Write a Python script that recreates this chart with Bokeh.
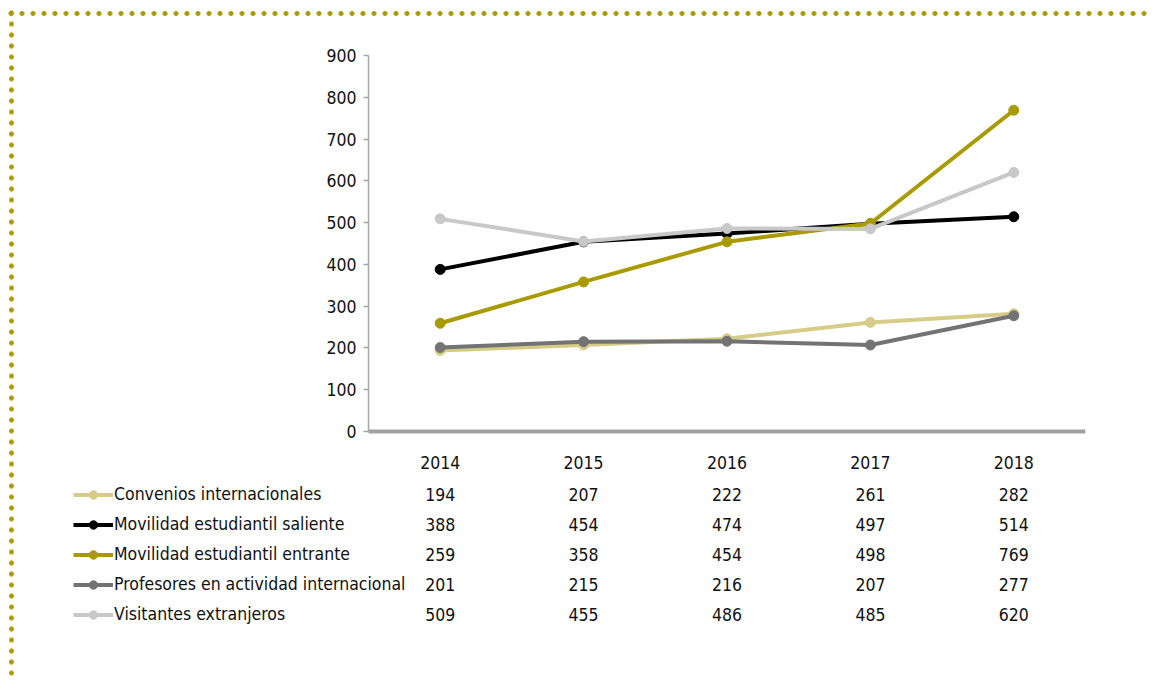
from bokeh.plotting import figure
from bokeh.models import (Range1d, LinearAxis, FixedTicker, Legend, LegendItem,
                          ColumnDataSource)
from bokeh.embed import file_html
from bokeh.resources import INLINE
from bokeh.core.properties import value

# ---------------- data ----------------
years = ["2014", "2015", "2016", "2017", "2018"]
series_names = [
    "Convenios internacionales",
    "Movilidad estudiantil saliente",
    "Movilidad estudiantil entrante",
    "Profesores en actividad internacional",
    "Visitantes extranjeros",
]
convenios = [194, 207, 222, 261, 282]
saliente = [388, 454, 474, 497, 514]
entrante = [259, 358, 454, 498, 769]
profesores = [201, 215, 216, 207, 277]
visitantes = [509, 455, 486, 485, 620]
series_colors = ["#D7CC87", "#000000", "#A99A00", "#737373", "#C8C8C8"]
y_ticks = [0, 100, 200, 300, 400, 500, 600, 700, 800, 900]
y_max = 900

series_values = [convenios, saliente, entrante, profesores, visitantes]
x_pos = list(range(len(years)))

# ---------------- layout constants (page pixels) ----------------
FONT = "'DejaVu Sans Condensed', 'Liberation Sans', sans-serif"
FSIZE = "17.5px"
TXT = "#111111"
OLIVE = "#A99A00"
W, H = 1152, 680

FR_L, FR_R, FR_T, FR_B = 65, 1085, 18, 630   # plot frame
AX_X = 368                                   # y axis position
Y0, Y900 = 431, 55                           # pixel rows of 0 and 900
HEADER_Y, ROW_PITCH = 464, 30

ppu = (Y0 - Y900) / y_max
band = (FR_R - AX_X) / len(years)
x_start = -0.5 - (AX_X - FR_L) / band
x_end = len(years) - 0.5
y_end = y_max + (Y900 - FR_T) / ppu
y_start = -(FR_B - Y0) / ppu

dot = "radial-gradient(circle at center, %s 0px, %s 2.1px, rgba(169,154,0,0) 2.8px)" % (OLIVE, OLIVE)
border_styles = {
    "background-color": "white",
    "background-image": "linear-gradient(#ffffff, #ffffff), linear-gradient(#ffffff, #ffffff), %s, %s" % (dot, dot),
    "background-size": "8px 100%, 20px 8px, 11px 11px, 11px 11px",
    "background-repeat": "no-repeat, no-repeat, repeat-x, repeat-y",
    "background-position": "0px 0px, 0px 0px, 5.5px 7.5px, 5.5px 7.5px",
}

p = figure(width=W, height=H,
           x_range=Range1d(x_start, x_end), y_range=Range1d(y_start, y_end),
           x_axis_location=None, y_axis_location=None,
           output_backend="svg", toolbar_location=None,
           min_border_left=FR_L, min_border_right=W - FR_R,
           min_border_top=FR_T, min_border_bottom=H - FR_B,
           styles=border_styles)
p.outline_line_color = None
p.background_fill_alpha = 0
p.border_fill_alpha = 0
p.xgrid.visible = False
p.ygrid.visible = False

# table row range: row index -> pixel row
r_top = (FR_T - HEADER_Y) / ROW_PITCH
r_bot = (FR_B - HEADER_Y) / ROW_PITCH
p.extra_y_ranges = {"table": Range1d(r_bot, r_top)}

# y axis crossing at the left edge of the first category
yaxis = LinearAxis(fixed_location=-0.5, bounds=(0, y_max),
                   ticker=FixedTicker(ticks=y_ticks))
yaxis.axis_line_color = "#A6A6A6"
yaxis.axis_line_width = 1.5
yaxis.major_tick_line_color = "#A6A6A6"
yaxis.major_tick_line_width = 1.5
yaxis.major_tick_out = 5
yaxis.major_tick_in = 0
yaxis.minor_tick_line_color = None
yaxis.major_label_standoff = 7
yaxis.major_label_text_font = FONT
yaxis.major_label_text_font_size = FSIZE
yaxis.major_label_text_color = TXT
p.add_layout(yaxis, "left")

# x axis at value 0, its labels form the table header
xaxis = LinearAxis(fixed_location=0, bounds=(-0.5, len(years) - 0.5),
                   ticker=FixedTicker(ticks=x_pos),
                   major_label_overrides={i: y for i, y in zip(x_pos, years)})
xaxis.axis_line_color = "#A0A0A0"
xaxis.axis_line_width = 4
xaxis.major_tick_line_color = None
xaxis.minor_tick_line_color = None
xaxis.major_tick_out = 0
xaxis.major_tick_in = 0
xaxis.major_label_standoff = 24
xaxis.major_label_text_font = FONT
xaxis.major_label_text_font_size = FSIZE
xaxis.major_label_text_color = TXT
p.add_layout(xaxis, "below")

# series
items = []
for name, vals, col in zip(series_names, series_values, series_colors):
    src = ColumnDataSource(dict(x=x_pos, y=vals))
    lr = p.line("x", "y", source=src, line_color=col, line_width=4)
    sr = p.scatter("x", "y", source=src, size=10, fill_color=col, line_color=col)
    items.append(LegendItem(label=name, renderers=[lr, sr]))

# table values
for i, vals in enumerate(series_values):
    p.text(x=x_pos, y=[i + 1] * len(years), text=[str(v) for v in vals],
           y_range_name="table", text_align="center", text_baseline="middle",
           text_font=value(FONT), text_font_size=FSIZE, text_color=TXT)

# legend rows aligned with the table rows
last_row_bottom = HEADER_Y + ROW_PITCH * len(series_names) + 10.5
legend = Legend(items=items, location=(73 - FR_L, FR_B - last_row_bottom),
                orientation="vertical", glyph_width=40, glyph_height=21,
                label_height=21, spacing=9, padding=0, margin=0,
                label_standoff=1, border_line_color=None,
                background_fill_alpha=0,
                label_text_font=FONT, label_text_font_size=FSIZE,
                label_text_color=TXT)
p.add_layout(legend, "center")

open("out.html", "w").write(file_html(p, INLINE))
